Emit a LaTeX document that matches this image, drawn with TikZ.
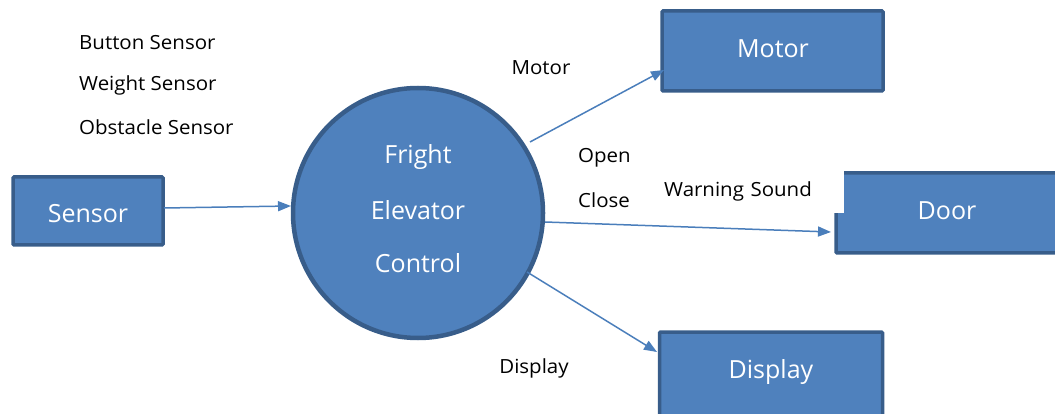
\documentclass[tikz,border=0pt]{standalone}
\usepackage{fontspec}
\setmainfont{Open Sans}
\newfontfamily\labelfont[FakeStretch=1.05]{Open Sans}
\usetikzlibrary{arrows.meta}
\definecolor{boxfill}{HTML}{4F81BD}
\definecolor{boxline}{HTML}{385D8A}
\definecolor{flow}{HTML}{4A7EBB}
\tikzset{
  block/.style={draw=boxline, fill=boxfill, line width=3.5pt, rounded corners=1pt,
    inner sep=0pt},
  hub/.style={circle, draw=boxline, fill=boxfill, line width=4.5pt,
    inner sep=0pt, minimum size=250pt},
  title/.style={text=white, font=\fontsize{25}{30}\selectfont, inner sep=0pt},
  note/.style={font=\labelfont\fontsize{19.5}{23}\selectfont, text=black, inner sep=0pt},
  flowline/.style={draw=flow, line width=1.5pt, -{Triangle[length=13pt,width=10pt]}}
}
\begin{document}
\begin{tikzpicture}[x=1pt, y=-1pt]
\useasboundingbox (0,0) rectangle (1055,414);
\clip (0,0) rectangle (1055,414);
% process blocks
\node[block, minimum width=150pt, minimum height=68pt] (sensor) at (88,211) {};
\node[title] at (88,214) {Sensor};
\node[hub] (ctrl) at (418,213) {};
\node[title] (t1) at (418,157) {Fright};
\node[title] (t2) at (418,210) {Elevator};
\node[title] (t3) at (418,263) {Control};
\node[block, minimum width=221pt, minimum height=80pt] (motor) at (772.5,51) {};
\node[title] at (773,49) {Motor};
\node[block, minimum width=240pt, minimum height=80pt] (door) at (956,213) {};
\node[title] at (947,211) {Door};
\node[block, minimum width=223pt, minimum height=84pt] (display) at (771,374) {};
\node[title] at (771,372) {Display};
% signal labels
\node[note, anchor=west] (l1) at (79,43) {Button Sensor};
\node[note, anchor=west] (l2) at (79,85) {Weight Sensor};
\node[note, anchor=west] (l3) at (79,127) {Obstacle Sensor};
\node[note] (lm) at (541,68) {Motor};
\node[note, anchor=west] (lo) at (578,158) {Open};
\node[note, anchor=west] (lc) at (578,200) {Close};
\node[note, anchor=north west, fill=white, text width=171pt, inner xsep=9pt,
  minimum height=44pt, align=left] (lw) at (655,169) {Warning Sound};
\node[note] (ld) at (534,368) {Display};
% data flows
\coordinate (s0) at (164,208);
\coordinate (c0) at (291,206);
\coordinate (c1) at (530,142);
\coordinate (m1) at (664,70);
\coordinate (c2) at (545,222);
\coordinate (d2) at (831,232);
\coordinate (c3) at (527,272);
\coordinate (p3) at (657,352);
\draw[flowline] (s0) -- (c0);
\draw[flowline] (c1) -- (m1);
\draw[flowline] (c2) -- (d2);
\draw[flowline] (c3) -- (p3);
\end{tikzpicture}
\end{document}
